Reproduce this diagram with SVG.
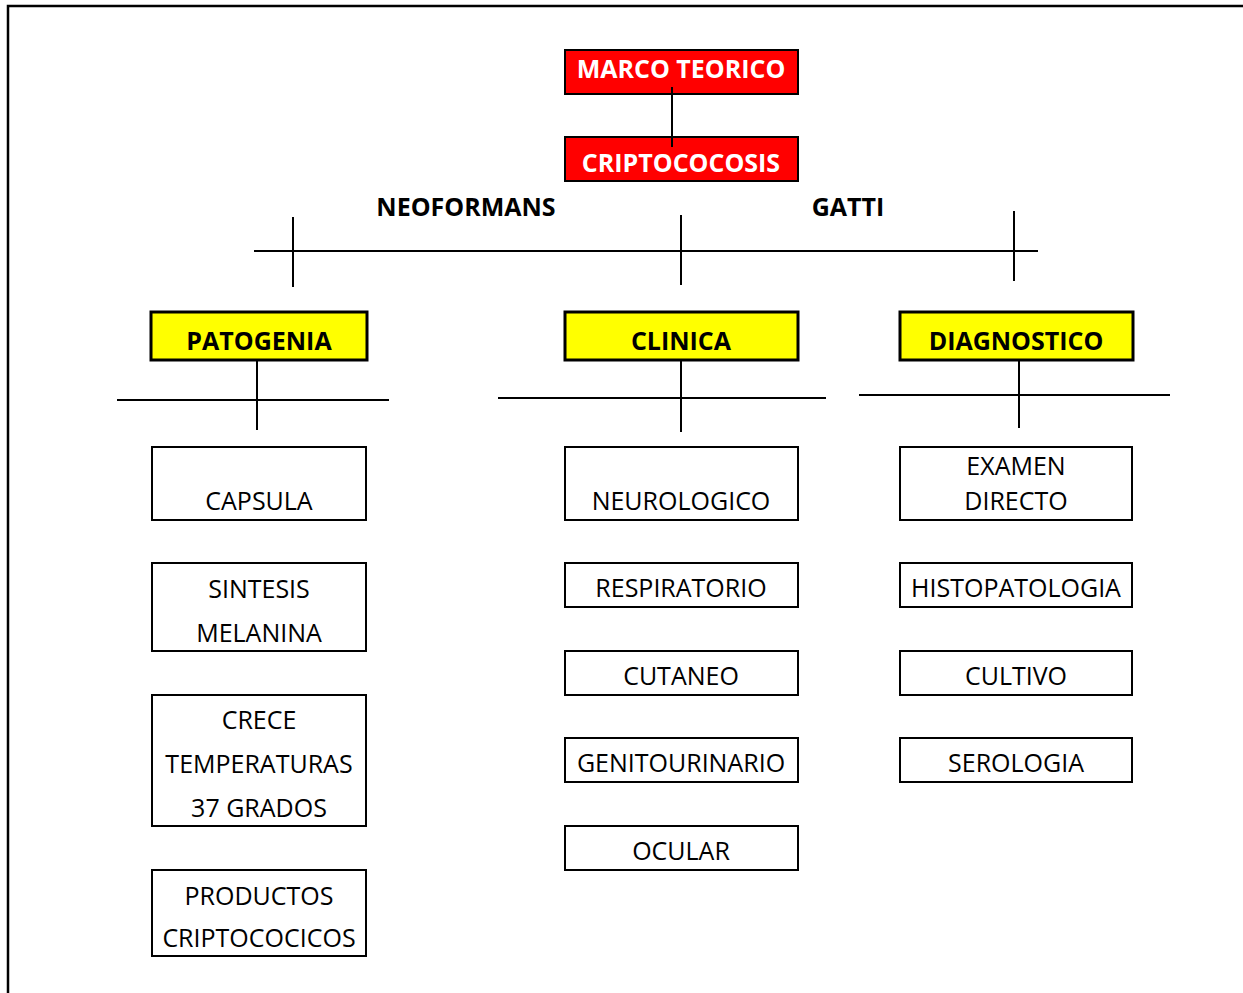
<svg xmlns="http://www.w3.org/2000/svg" width="1243" height="993" viewBox="0 0 1243 993">
<style>
.t{font-family:"Open Sans","Noto Sans","Liberation Sans",sans-serif;font-size:25px;text-anchor:middle;fill:#000}
.b{font-weight:bold}
.w{fill:#fff}
.box{fill:#fff;stroke:#000;stroke-width:2}
.red{fill:#ff0000;stroke:#000;stroke-width:2}
.yel{fill:#ffff00;stroke:#000;stroke-width:3}
.ln{stroke:#000;stroke-width:2;fill:none}
</style>
<rect width="1243" height="993" fill="#fff"/>
<path d="M8,993 V6 H1243" fill="none" stroke="#000" stroke-width="2.5"/>
<g id="labels">
<text class="t b" x="466" y="216">NEOFORMANS</text>
<text class="t b" x="848" y="216">GATTI</text>
</g>
<g id="marco"><rect class="red" x="565" y="50" width="233" height="44"/><text class="t b w" x="681" y="78">MARCO TEORICO</text></g>
<g id="cripto"><rect class="red" x="565" y="137" width="233" height="44"/><text class="t b w" x="681" y="172">CRIPTOCOCOSIS</text></g>
<g id="patogenia"><rect class="yel" x="151" y="312" width="216" height="48"/><text class="t b" x="259" y="350">PATOGENIA</text></g>
<g id="clinica"><rect class="yel" x="565" y="312" width="233" height="48"/><text class="t b" x="681" y="350">CLINICA</text></g>
<g id="diagnostico"><rect class="yel" x="900" y="312" width="233" height="48"/><text class="t b" x="1016" y="350">DIAGNOSTICO</text></g>
<g id="capsula"><rect class="box" x="152" y="447" width="214" height="73"/><text class="t" x="259" y="510">CAPSULA</text></g>
<g id="sintesis"><rect class="box" x="152" y="563" width="214" height="88"/><text class="t" x="259" y="598">SINTESIS</text><text class="t" x="259" y="642">MELANINA</text></g>
<g id="crece"><rect class="box" x="152" y="695" width="214" height="131"/><text class="t" x="259" y="729">CRECE</text><text class="t" x="259" y="773">TEMPERATURAS</text><text class="t" x="259" y="817">37 GRADOS</text></g>
<g id="productos"><rect class="box" x="152" y="870" width="214" height="86"/><text class="t" x="259" y="905">PRODUCTOS</text><text class="t" x="259" y="947">CRIPTOCOCICOS</text></g>
<g id="neurologico"><rect class="box" x="565" y="447" width="233" height="73"/><text class="t" x="681" y="510">NEUROLOGICO</text></g>
<g id="respiratorio"><rect class="box" x="565" y="563" width="233" height="44"/><text class="t" x="681" y="597">RESPIRATORIO</text></g>
<g id="cutaneo"><rect class="box" x="565" y="651" width="233" height="44"/><text class="t" x="681" y="685">CUTANEO</text></g>
<g id="genitourinario"><rect class="box" x="565" y="738" width="233" height="44"/><text class="t" x="681" y="772">GENITOURINARIO</text></g>
<g id="ocular"><rect class="box" x="565" y="826" width="233" height="44"/><text class="t" x="681" y="860">OCULAR</text></g>
<g id="examen"><rect class="box" x="900" y="447" width="232" height="73"/><text class="t" x="1016" y="475">EXAMEN</text><text class="t" x="1016" y="510">DIRECTO</text></g>
<g id="histopatologia"><rect class="box" x="900" y="563" width="232" height="44"/><text class="t" x="1016" y="597">HISTOPATOLOGIA</text></g>
<g id="cultivo"><rect class="box" x="900" y="651" width="232" height="44"/><text class="t" x="1016" y="685">CULTIVO</text></g>
<g id="serologia"><rect class="box" x="900" y="738" width="232" height="44"/><text class="t" x="1016" y="772">SEROLOGIA</text></g>
<g id="connectors">
<line class="ln" x1="672" y1="87" x2="672" y2="147"/>
<line class="ln" x1="254" y1="251" x2="1038" y2="251"/>
<line class="ln" x1="293" y1="217" x2="293" y2="287"/>
<line class="ln" x1="681" y1="215" x2="681" y2="285"/>
<line class="ln" x1="1014" y1="211" x2="1014" y2="281"/>
<line class="ln" x1="257" y1="361" x2="257" y2="430"/>
<line class="ln" x1="117" y1="400" x2="389" y2="400"/>
<line class="ln" x1="681" y1="361" x2="681" y2="432"/>
<line class="ln" x1="498" y1="398" x2="826" y2="398"/>
<line class="ln" x1="1019" y1="361" x2="1019" y2="428"/>
<line class="ln" x1="859" y1="395" x2="1170" y2="395"/>
</g>
</svg>
